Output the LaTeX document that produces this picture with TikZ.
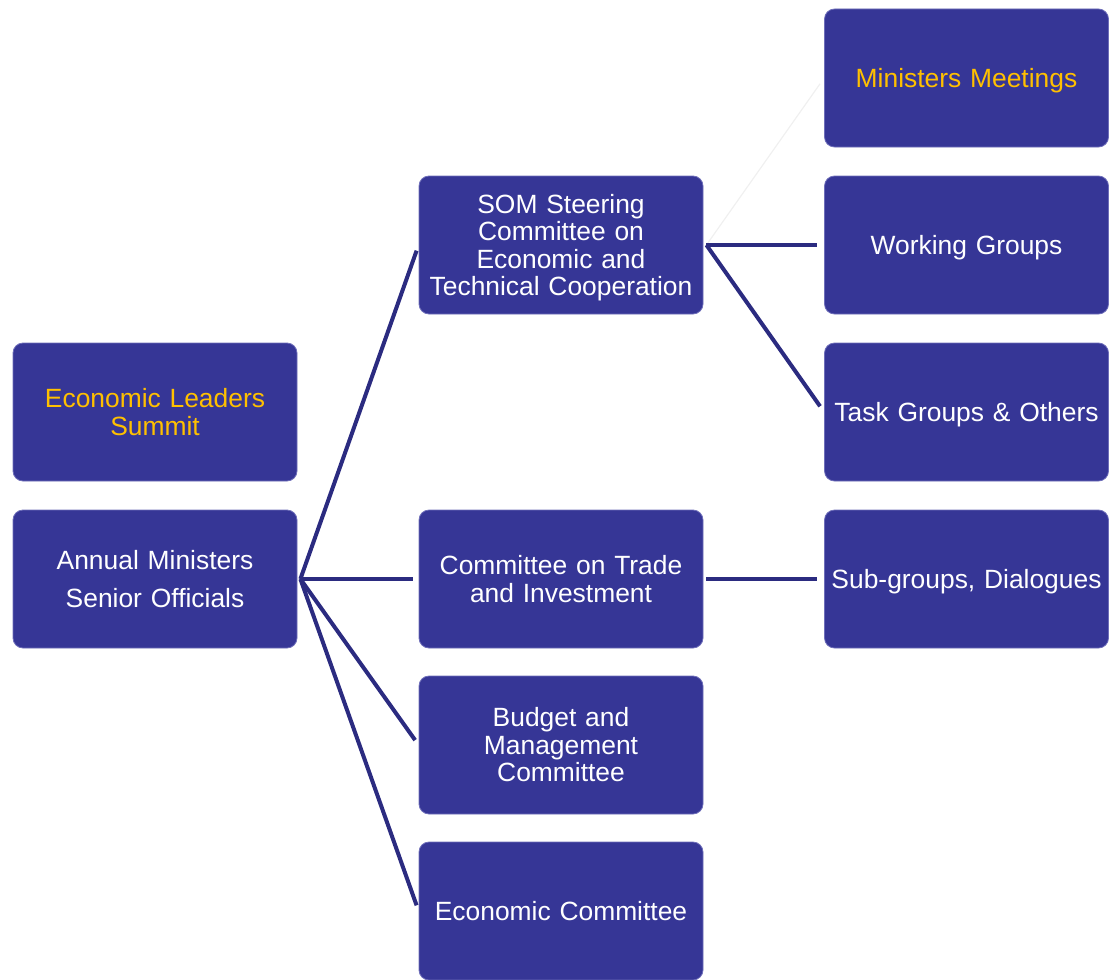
\documentclass[tikz,border=0pt]{standalone}
\usepackage{fontspec}
\setmainfont{Liberation Sans}
\begin{document}
\begin{tikzpicture}[x=1pt,y=1pt,
  orgbox/.style={draw=boxedge, line width=0.8pt, fill=boxfill, rounded corners=10pt,
    minimum width=284pt, minimum height=138pt, inner sep=0pt,
    align=center, text width=276pt, text=white,
    font=\fontsize{26.4pt}{27.5pt}\selectfont},
  goldtext/.style={text=gold},
  nodesc/.style={text depth=0pt},
  conn/.style={draw=linecol, line width=4pt},
  faint/.style={draw=black!6, line width=1.2pt}]
\definecolor{boxfill}{RGB}{54,54,150}
\definecolor{boxedge}{RGB}{110,110,185}
\definecolor{linecol}{RGB}{43,43,128}
\definecolor{gold}{RGB}{255,192,0}
\useasboundingbox (0,0) rectangle (1110,-979);

% left column
\node[orgbox, goldtext] (els) at (155,-412) {Economic Leaders\\Summit};
\node[orgbox, font=\fontsize{26.4pt}{38pt}\selectfont] (ams) at (155,-579) {Annual Ministers\\Senior Officials};

% middle column
\node[orgbox, text depth=82.5pt] (som) at (561,-245) {SOM Steering\\Committee on\\Economic and\\Technical Cooperation};
\node[orgbox] (cti) at (561,-579) {Committee on Trade\\and Investment};
\node[orgbox] (bmc) at (561,-745) {Budget and\\Management\\Committee};
\node[orgbox] (ec)  at (561,-911) {Economic Committee};

% right column
\node[orgbox, goldtext, nodesc] (mm) at (966.5,-78) {Ministers Meetings};
\node[orgbox, nodesc] (wg)  at (966.5,-245) {Working Groups};
\node[orgbox, nodesc] (tg)  at (966.5,-412) {Task Groups \& Others};
\node[orgbox, nodesc] (sgd) at (966.5,-579) {Sub-groups, Dialogues};

% connectors from the annual meetings
\foreach \t in {som,cti,bmc,ec}
  \draw[conn, shorten >=6pt] ([xshift=3pt]ams.east) -- (\t.west);

% connectors from the SOM steering committee
\draw[faint, shorten >=7pt] ([xshift=3pt]som.east) -- (mm.west);
\draw[conn, shorten >=7pt] ([xshift=3pt]som.east) -- (wg.west);
\draw[conn, shorten >=7pt] ([xshift=3pt]som.east) -- (tg.west);

% connector from the trade committee
\draw[conn, shorten >=7pt] ([xshift=3pt]cti.east) -- (sgd.west);
\end{tikzpicture}
\end{document}
